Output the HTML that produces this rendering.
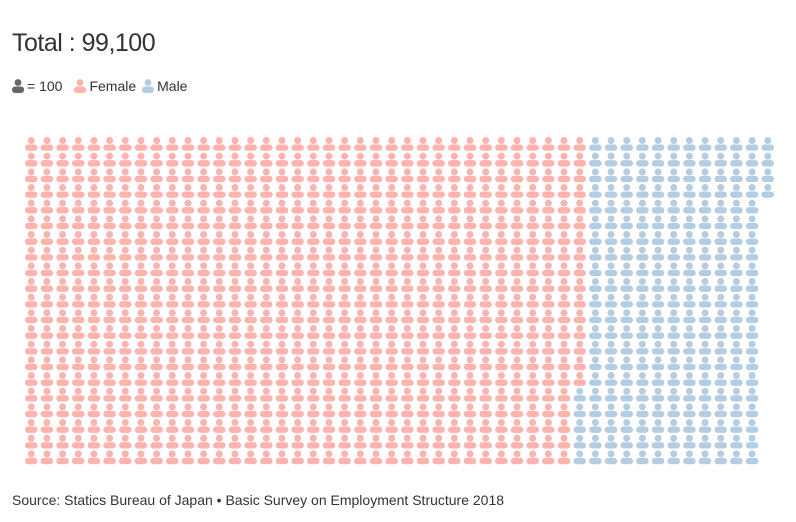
<!DOCTYPE html>
<html><head><meta charset="utf-8">
<style>
body{margin:0;background:#fff;font-family:"Liberation Sans",sans-serif;}
#wrap{position:relative;width:796px;height:522px;overflow:hidden;}
.title{position:absolute;left:12px;top:29px;font-size:25px;color:#333;letter-spacing:-0.5px;}
.legend{position:absolute;left:12px;top:78px;font-size:14px;color:#333;display:flex;align-items:center;}
.legend span{display:inline-flex;align-items:center;margin-right:6px;}
.legend svg{margin-right:3px;}
.source{position:absolute;left:12px;top:492px;font-size:14px;color:#333;}
</style></head><body>
<div id="wrap">
<div class="title">Total : 99,100</div>
<div class="legend">
<span><svg width="12" height="14" viewBox="0 0 12 14"><circle cx="6" cy="3.5" r="3.4" fill="#666"/><rect x="0" y="7.5" width="12" height="6.5" rx="3" fill="#666"/></svg>= 100</span>
<span style="margin-left:6px"><svg width="12" height="14" viewBox="0 0 12 14"><circle cx="6" cy="3.5" r="3.4" fill="#ffb3ad"/><rect x="0" y="7.5" width="12" height="6.5" rx="3" fill="#ffb3ad"/></svg>Female</span>
<span><svg width="12" height="14" viewBox="0 0 12 14"><circle cx="6" cy="3.5" r="3.4" fill="#b3cde3"/><rect x="0" y="7.5" width="12" height="6.5" rx="3" fill="#b3cde3"/></svg>Male</span>
</div>
<svg id="grid" width="796" height="522" style="position:absolute;left:0;top:0"></svg>
<div class="source">Source: Statics Bureau of Japan • Basic Survey on Employment Structure 2018</div>
</div>
<script>
const categories = ['Female', 'Male'];
const values = [75100, 24000];
const unitValue = 100;
const colors = ['#ffb3ad', '#b3cde3'];
const nRows = 21;
const x0 = 25, y0 = 137, step = 15.67;
const svg = document.getElementById('grid');
const NS = 'http://www.w3.org/2000/svg';
let idx = 0;
categories.forEach((cat, ci) => {
  const n = Math.round(values[ci] / unitValue);
  for (let k = 0; k < n; k++) {
    const col = Math.floor(idx / nRows), row = idx % nRows;
    const x = x0 + col * step, y = y0 + row * step;
    const g = document.createElementNS(NS, 'g');
    
    
    const c = document.createElementNS(NS, 'circle');
    c.setAttribute('cx', x + 6.25); c.setAttribute('cy', y + 3.5); c.setAttribute('r', 3.5);
    c.setAttribute('fill', colors[ci]);
    const r = document.createElementNS(NS, 'rect');
    r.setAttribute('x', x); r.setAttribute('y', y + 7.5); r.setAttribute('width', 12.5); r.setAttribute('height', 6.3);
    r.setAttribute('rx', 3); r.setAttribute('fill', colors[ci]);
    g.appendChild(c); g.appendChild(r); svg.appendChild(g);
    idx++;
  }
});
</script>
</body></html>
